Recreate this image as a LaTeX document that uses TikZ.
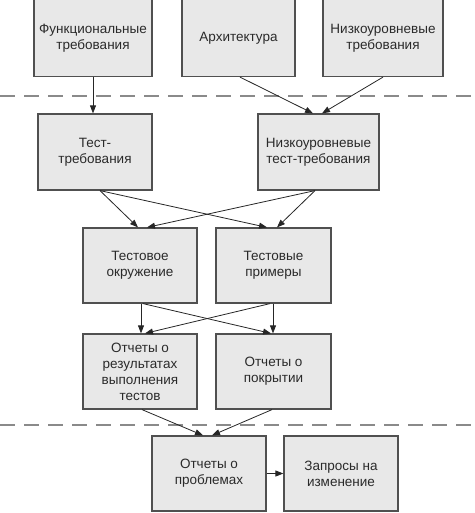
\documentclass[tikz,border=0pt]{standalone}
\usepackage{fontspec}
\setmainfont{Liberation Sans}
\usetikzlibrary{arrows.meta}
\definecolor{boxfill}{HTML}{E8E8E8}
\definecolor{boxline}{HTML}{505050}
\definecolor{txt}{HTML}{2A2A2A}
\definecolor{dashc}{HTML}{8A8A8A}
\tikzset{
  blk/.style={draw=boxline, fill=boxfill, line width=1.2pt, minimum height=75pt,
    align=center, text=txt, font=\fontsize{13.5}{16}\selectfont, inner sep=0pt},
  arr/.style={draw=black!85, line width=0.8pt, -{Triangle[length=8pt,width=6pt]}},
  sep/.style={draw=dashc, line width=1.1pt, dash pattern=on 15pt off 9pt},
}
\begin{document}
\begin{tikzpicture}[x=1pt,y=-1pt]
\useasboundingbox (0,0) rectangle (474,513);
% separators
\coordinate (s1a) at (0,96); \coordinate (s1b) at (474,96);
\coordinate (s2a) at (0,425); \coordinate (s2b) at (474,425);
\draw[sep] (s1a) -- (s1b);
\draw[sep] (s2a) -- (s2b);
% row 1
\node[blk, minimum width=118pt, minimum height=77pt] (fr) at (93,38) {Функциональные\\требования};
\node[blk, minimum width=113pt, minimum height=77pt] (ar) at (238.5,38) {Архитектура};
\node[blk, minimum width=120pt, minimum height=77pt] (lr) at (383,38) {Низкоуровневые\\требования};
% row 2
\node[blk, minimum width=114pt, minimum height=76pt] (tt) at (95,152) {Тест-\\требования};
\node[blk, minimum width=121pt, minimum height=76pt] (nt) at (318.5,152) {Низкоуровневые\\тест-требования};
% row 3
\node[blk, minimum width=114pt] (te) at (140,265.5) {Тестовое\\окружение};
\node[blk, minimum width=115pt] (tp) at (273.5,265.5) {Тестовые\\примеры};
% row 4
\node[blk, minimum width=114pt] (or) at (140,371.5) {Отчеты о\\результатах\\выполнения\\тестов};
\node[blk, minimum width=115pt] (op) at (273.5,371.5) {Отчеты о\\покрытии};
% row 5
\node[blk, minimum width=114pt] (pr) at (209,473.5) {Отчеты о\\проблемах};
\node[blk, minimum width=114pt] (zi) at (341,473.5) {Запросы на\\изменение};
% connectors
\draw[arr] (fr.south) -- (fr.south |- tt.north);
\draw[arr] ([xshift=1.5pt]ar.south) -- ([xshift=-5.5pt]nt.north);
\draw[arr] (lr.south) -- ([xshift=3.5pt]nt.north);
\draw[arr] ([xshift=5pt]tt.south) -- ([xshift=-2pt]te.north);
\draw[arr] ([xshift=5pt]tt.south) -- ([xshift=-6.5pt]tp.north);
\draw[arr] ([xshift=-3.5pt]nt.south) -- ([xshift=7pt]te.north);
\draw[arr] ([xshift=-3.5pt]nt.south) -- ([xshift=3.5pt]tp.north);
\draw[arr] ([xshift=1pt]te.south) -- ([xshift=1pt]or.north);
\draw[arr] ([xshift=3pt]te.south) -- ([xshift=-2.5pt]op.north);
\draw[arr] ([xshift=-3.5pt]tp.south) -- ([xshift=5pt]or.north);
\draw[arr] ([xshift=-0.5pt]tp.south) -- ([xshift=-0.5pt]op.north);
\draw[arr] ([xshift=2pt]or.south) -- ([xshift=-6pt]pr.north);
\draw[arr] ([xshift=-1.5pt]op.south) -- ([xshift=3pt]pr.north);
\draw[arr] (pr.east) -- (zi.west);
\end{tikzpicture}
\end{document}
